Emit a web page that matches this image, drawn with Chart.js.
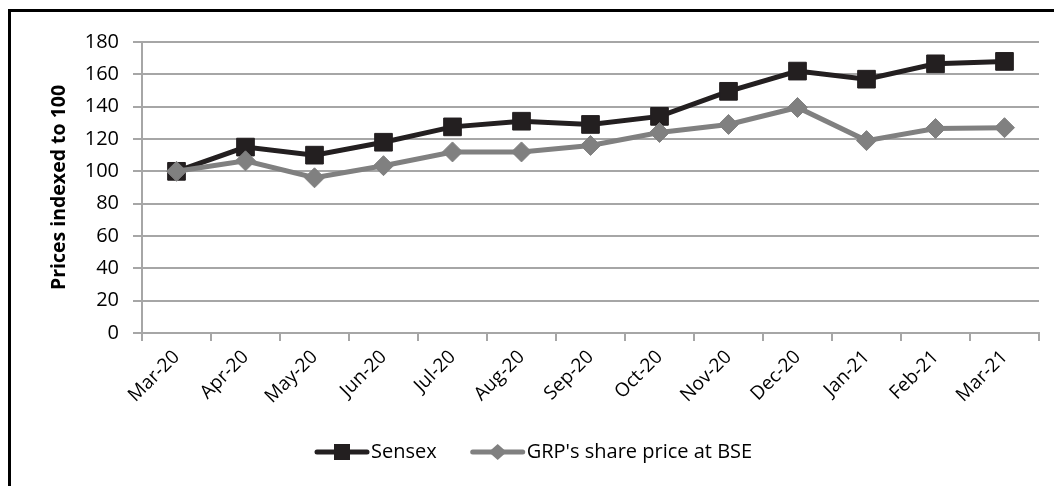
<!DOCTYPE html>
<html>
<head>
<meta charset="utf-8">
<script src="https://cdn.jsdelivr.net/npm/chart.js@4/dist/chart.umd.min.js"></script>
<style>
  html, body { margin: 0; padding: 0; background: #fff; overflow: hidden; }
  #frame { position: absolute; left: 8px; top: 9px; width: 2000px; height: 2000px; border: 3px solid #000; }
  #wrap { position: absolute; left: 0; top: 0; width: 1054px; height: 486px; }
</style>
</head>
<body>
<div id="frame"></div>
<div id="wrap"><canvas id="chart" width="1054" height="486"></canvas></div>
<script>
const months = ["Mar-20", "Apr-20", "May-20", "Jun-20", "Jul-20", "Aug-20", "Sep-20",
  "Oct-20", "Nov-20", "Dec-20", "Jan-21", "Feb-21", "Mar-21"];
const sensex = [100, 115, 110, 118, 127.5, 131, 129, 134, 149.5, 162, 157, 166.5, 168];
const grp = [100, 106.5, 96, 103.5, 112, 112, 116, 124, 129, 139.5, 119, 126.5, 127];
const seriesNames = ["Sensex", "GRP's share price at BSE"];
const yTicks = [0, 20, 40, 60, 80, 100, 120, 140, 160, 180];

const FONT = "'Open Sans', sans-serif";
const black = "#231f20";
const grey = "#808080";
const gridGrey = "#a6a6a6";

// legend drawn by hand: line + marker + label, like the Excel one
const lineLegend = {
  id: "lineLegend",
  afterDraw(chart) {
    const ctx = chart.ctx;
    const y = 452;
    const items = [
      { label: seriesNames[0], color: black, style: "rect" },
      { label: seriesNames[1], color: grey, style: "diamond" },
    ];
    ctx.save();
    ctx.font = "20px " + FONT;
    let x = 317;
    items.forEach((it) => {
      ctx.strokeStyle = it.color;
      ctx.lineWidth = 5;
      ctx.lineCap = "round";
      ctx.beginPath();
      ctx.moveTo(x, y);
      ctx.lineTo(x + 50, y);
      ctx.stroke();
      ctx.fillStyle = it.color;
      const cx = x + 25;
      if (it.style === "rect") {
        ctx.fillRect(cx - 8, y - 8, 16, 16);
      } else {
        ctx.beginPath();
        ctx.moveTo(cx, y - 8);
        ctx.lineTo(cx + 9, y);
        ctx.lineTo(cx, y + 8);
        ctx.lineTo(cx - 9, y);
        ctx.closePath();
        ctx.fill();
      }
      ctx.fillStyle = "#000";
      ctx.textBaseline = "middle";
      ctx.textAlign = "left";
      ctx.fillText(it.label, x + 54, y);
      x += 54 + ctx.measureText(it.label).width + 36;
    });
    ctx.restore();
  },
};

const ctx = document.getElementById("chart").getContext("2d");
new Chart(ctx, {
  type: "line",
  data: {
    labels: months,
    datasets: [
      {
        label: seriesNames[0],
        data: sensex,
        borderColor: black,
        backgroundColor: black,
        borderWidth: 5,
        pointStyle: "rect",
        pointRadius: 12.5,
        pointBorderWidth: 1,
        pointBorderColor: black,
        pointBackgroundColor: black,
        tension: 0,
        order: 2,
      },
      {
        label: seriesNames[1],
        data: grp,
        borderColor: grey,
        backgroundColor: grey,
        borderWidth: 5,
        pointStyle: "rectRot",
        pointRadius: 10,
        pointBorderWidth: 1,
        pointBorderColor: grey,
        pointBackgroundColor: grey,
        tension: 0,
        order: 1,
      },
    ],
  },
  options: {
    responsive: false,
    animation: false,
    layout: { padding: { top: 42, right: 15, left: 0, bottom: 0 } },
    plugins: {
      legend: { display: false },
      tooltip: { enabled: false },
    },
    scales: {
      x: {
        offset: true,
        grid: {
          offset: true,
          drawOnChartArea: false,
          drawTicks: true,
          tickLength: 8,
          color: gridGrey,
          lineWidth: 2,
        },
        border: { color: gridGrey, width: 2 },
        ticks: {
          color: "#000",
          font: { family: FONT, size: 19 },
          minRotation: 45,
          maxRotation: 45,
          autoSkip: false,
          padding: 5,
        },
        afterFit(scale) {
          scale.height = 153;
        },
      },
      y: {
        min: 0,
        max: 180,
        afterBuildTicks(scale) {
          scale.ticks = yTicks.map((v) => ({ value: v }));
        },
        grid: {
          color: gridGrey,
          lineWidth: 2,
          tickLength: 9,
        },
        border: { color: gridGrey, width: 2 },
        ticks: {
          color: "#000",
          font: { family: FONT, size: 20 },
          padding: 14,
        },
        title: {
          display: true,
          text: "Prices indexed to 100",
          color: "#000",
          font: { family: FONT, size: 19.5, weight: "bold" },
          padding: { top: 48, bottom: 0 },
        },
        afterFit(scale) {
          scale.width = 142;
        },
      },
    },
  },
  plugins: [lineLegend],
});
</script>
</body>
</html>
